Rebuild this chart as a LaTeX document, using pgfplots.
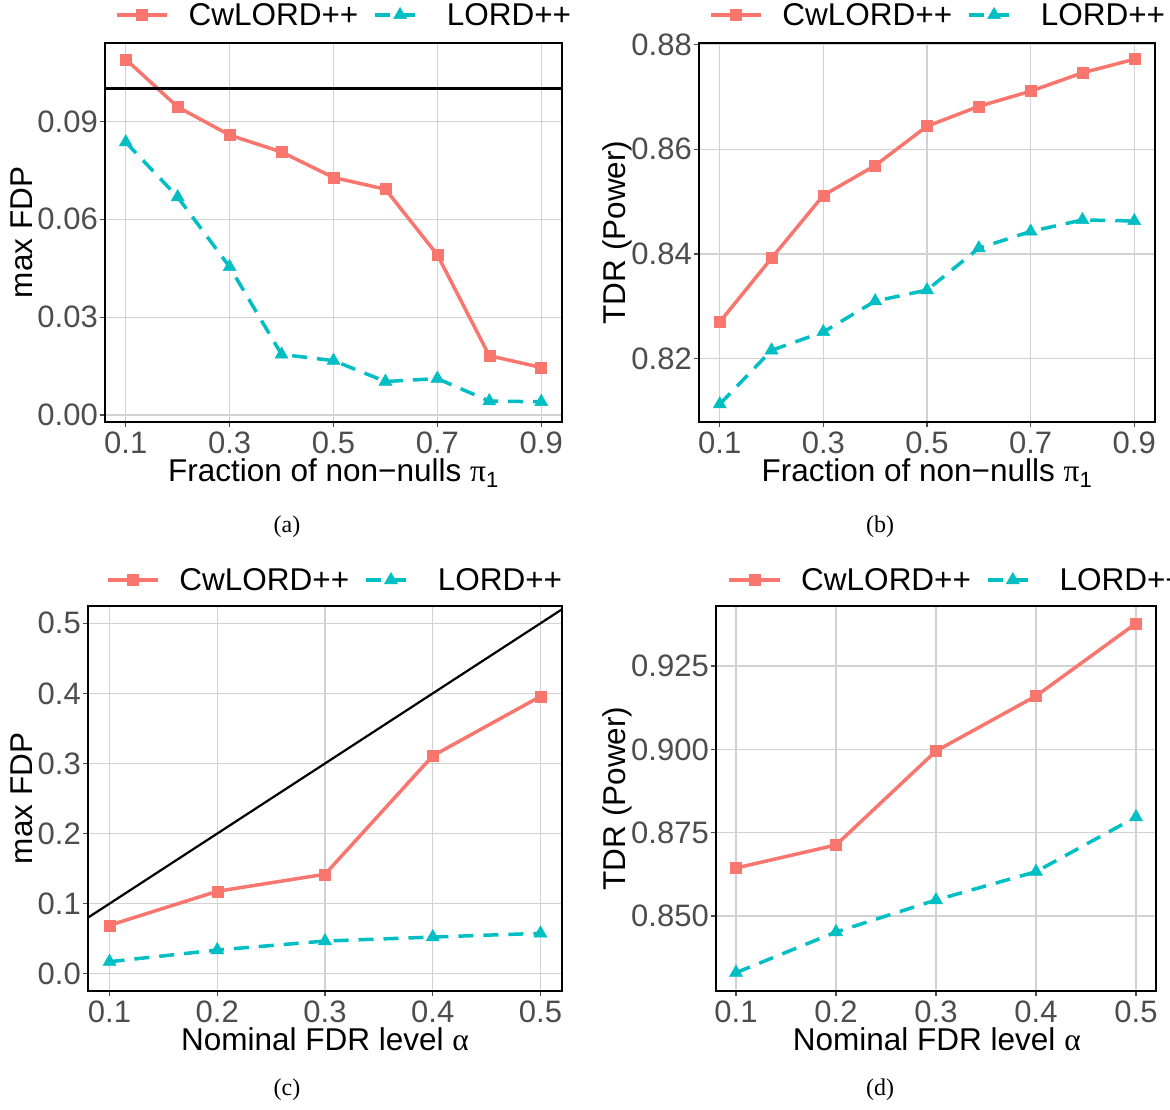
\documentclass[border=0pt]{standalone}
\usepackage{fontspec}
\setmainfont{Liberation Sans}
\newfontfamily\seriffont{Liberation Serif}
\usepackage{pgfplots}
\pgfplotsset{compat=1.18}
\definecolor{cwred}{HTML}{F8766D}
\definecolor{lordcyan}{HTML}{00BFC4}
\definecolor{tickgrey}{HTML}{4D4D4D}
\definecolor{gridgrey}{HTML}{D2D2D2}
\newcommand{\ggfont}{\fontsize{31}{37}\selectfont}
\newcommand{\gglab}{\fontsize{31.5}{38}\selectfont}
\pgfplotsset{
  gg/.style={
    scale only axis,
    anchor=north west,
    axis line style={black, line width=1.6pt},
    grid=major,
    major grid style={gridgrey, line width=1.3pt},
    tick align=outside,
    xtick pos=bottom, ytick pos=left,
    major tick length=5pt,
    tick style={tickgrey, line width=1.3pt},
    every tick label/.append style={font=\ggfont, text=tickgrey, inner sep=0pt},
    xticklabel style={yshift=-5pt},
    yticklabel style={xshift=-2pt},
    label style={font=\gglab},
    /pgf/number format/assume math mode=true,
    legend columns=2,
    legend style={draw=none, fill=none, font=\gglab, anchor=center,
      nodes={inner sep=0pt},
      /tikz/every odd column/.append style={column sep=20pt},
      /tikz/every even column/.append style={column sep=15pt}},
    legend cell align=left,
    legend image code/.code={
      \draw[mark repeat=2,mark phase=2,#1] plot coordinates {(0pt,0pt) (25pt,0pt) (50pt,0pt)};
    },
  },
  cw/.style={cwred, line width=3.5pt, mark=square*, mark size=5.5pt,
    mark options={solid, fill=cwred, draw=cwred, line width=0.5pt}},
  lo/.style={lordcyan, line width=3.5pt, dash pattern=on 15pt off 10pt, mark=triangle*, mark size=7.5pt,
    mark options={solid, fill=lordcyan, draw=lordcyan, line width=0.5pt}},
}
\begin{document}
\begin{tikzpicture}
\path[use as bounding box] (0pt,0pt) rectangle (1170pt,-1110pt);
% (a)
\begin{axis}[gg, at={(105pt,-43pt)}, width=457pt, height=379pt,
  xmin=0.06, xmax=0.94, ymin=-0.0021, ymax=0.1140,
  xtick={0.1,0.3,0.5,0.7,0.9}, xticklabels={0.1,0.3,0.5,0.7,0.9},
  ytick={0,0.03,0.06,0.09}, yticklabels={0.00,0.03,0.06,0.09},
  xlabel={Fraction of non−nulls {\seriffont π}\textsubscript{1}},
  ylabel={max FDP},
  xlabel style={at={(axis description cs:0.5,-0.1557)}, anchor=base},
  ylabel style={at={(axis description cs:-0.1816,0.5)}, anchor=center},
  legend style={at={(axis description cs:0.521,1.074)}},
]
\addplot[cw] coordinates {(0.1,0.1090) (0.2,0.0944) (0.3,0.0858) (0.4,0.0806) (0.5,0.0728) (0.6,0.0692) (0.7,0.0491) (0.8,0.0182) (0.9,0.0146)};
\addlegendentry{CwLORD++}
\addplot[lo] coordinates {(0.1,0.0836) (0.2,0.0668) (0.3,0.0454) (0.4,0.0186) (0.5,0.0167) (0.6,0.0103) (0.7,0.0112) (0.8,0.0043) (0.9,0.0041)};
\addlegendentry{LORD++}
\addplot[black, line width=2.5pt, forget plot] coordinates {(0.06,0.1) (0.94,0.1)};
\end{axis}
% (b)
\begin{axis}[gg, at={(699pt,-43pt)}, width=456pt, height=379pt,
  xmin=0.06, xmax=0.94, ymin=0.8079, ymax=0.8803,
  xtick={0.1,0.3,0.5,0.7,0.9}, xticklabels={0.1,0.3,0.5,0.7,0.9},
  ytick={0.82,0.84,0.86,0.88}, yticklabels={0.82,0.84,0.86,0.88},
  xlabel={Fraction of non−nulls {\seriffont π}\textsubscript{1}},
  ylabel={TDR (Power)},
  xlabel style={at={(axis description cs:0.5,-0.1557)}, anchor=base},
  ylabel style={at={(axis description cs:-0.18,0.5)}, anchor=center},
  legend style={at={(axis description cs:0.522,1.074)}},
]
\addplot[cw] coordinates {(0.1,0.8270) (0.2,0.8392) (0.3,0.8512) (0.4,0.8569) (0.5,0.8644) (0.6,0.8682) (0.7,0.8711) (0.8,0.8746) (0.9,0.8772)};
\addlegendentry{CwLORD++}
\addplot[lo] coordinates {(0.1,0.8113) (0.2,0.8216) (0.3,0.8251) (0.4,0.8310) (0.5,0.8331) (0.6,0.8411) (0.7,0.8443) (0.8,0.8465) (0.9,0.8463)};
\addlegendentry{LORD++}
\end{axis}
% (c)
\begin{axis}[gg, at={(88pt,-606pt)}, width=474pt, height=385pt,
  xmin=0.08, xmax=0.52, ymin=-0.0247, ymax=0.5247,
  xtick={0.1,0.2,0.3,0.4,0.5}, xticklabels={0.1,0.2,0.3,0.4,0.5},
  ytick={0,0.1,0.2,0.3,0.4,0.5}, yticklabels={0.0,0.1,0.2,0.3,0.4,0.5},
  xlabel={Nominal FDR level {\seriffont α}},
  ylabel={max FDP},
  xlabel style={at={(axis description cs:0.5,-0.155)}, anchor=base},
  ylabel style={at={(axis description cs:-0.139,0.5)}, anchor=center},
  legend style={at={(axis description cs:0.519,1.0675)}},
]
\addplot[cw] coordinates {(0.1,0.0691) (0.2,0.1176) (0.3,0.1419) (0.4,0.3109) (0.5,0.3957)};
\addlegendentry{CwLORD++}
\addplot[lo] coordinates {(0.1,0.0171) (0.2,0.0338) (0.3,0.0466) (0.4,0.0523) (0.5,0.0576)};
\addlegendentry{LORD++}
\addplot[black, line width=2.2pt, forget plot] coordinates {(0.08,0.08) (0.52,0.52)};
\end{axis}
% (d)
\begin{axis}[gg, at={(716pt,-606pt)}, width=440pt, height=385pt,
  xmin=0.08, xmax=0.52, ymin=0.8275, ymax=0.943,
  xtick={0.1,0.2,0.3,0.4,0.5}, xticklabels={0.1,0.2,0.3,0.4,0.5},
  ytick={0.85,0.875,0.9,0.925}, yticklabels={0.850,0.875,0.900,0.925},
  xlabel={Nominal FDR level {\seriffont α}},
  ylabel={TDR (Power)},
  xlabel style={at={(axis description cs:0.502,-0.155)}, anchor=base},
  ylabel style={at={(axis description cs:-0.225,0.5)}, anchor=center},
  legend style={at={(axis description cs:0.545,1.0675)}},
]
\addplot[cw] coordinates {(0.1,0.8644) (0.2,0.8713) (0.3,0.8995) (0.4,0.9160) (0.5,0.9378)};
\addlegendentry{CwLORD++}
\addplot[lo] coordinates {(0.1,0.8330) (0.2,0.8452) (0.3,0.8548) (0.4,0.8633) (0.5,0.8797)};
\addlegendentry{LORD++}
\end{axis}
\node[font=\seriffont\fontsize{24}{28}\selectfont] at (287pt,-527pt) {(a)};
\node[font=\seriffont\fontsize{24}{28}\selectfont] at (880pt,-527pt) {(b)};
\node[font=\seriffont\fontsize{24}{28}\selectfont] at (287pt,-1090pt) {(c)};
\node[font=\seriffont\fontsize{24}{28}\selectfont] at (880pt,-1090pt) {(d)};
\end{tikzpicture}
\end{document}
